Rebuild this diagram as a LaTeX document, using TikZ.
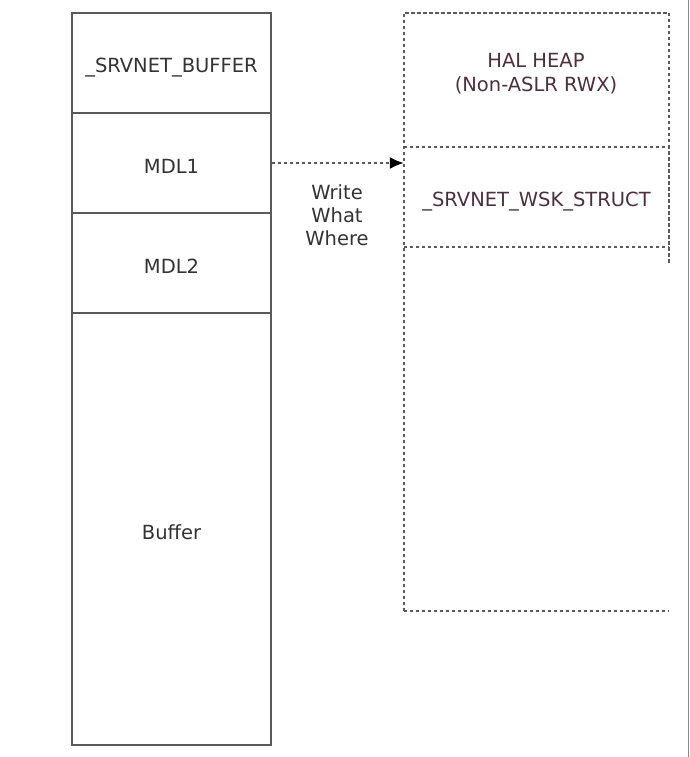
\documentclass[tikz,border=0pt]{standalone}
\usepackage{fontspec}
\setmainfont{DejaVu Sans}
\usetikzlibrary{arrows.meta}
\definecolor{linegray}{HTML}{5A5A5A}
\definecolor{txtgray}{HTML}{333333}
\definecolor{heaptxt}{HTML}{4D3040}
\definecolor{edgegray}{HTML}{8A8A8A}
\begin{document}
\begin{tikzpicture}[x=1pt,y=-1pt,
  blk/.style={draw=linegray, line width=1.8pt, minimum width=199pt, inner sep=0pt,
    text=txtgray, font=\fontsize{19.5}{23}\selectfont, text height=20pt, text depth=0pt},
  lbl/.style={text=heaptxt, align=center, font=\fontsize{19.5}{24}\selectfont, inner sep=0pt},
  dashline/.style={draw=linegray, line width=1.6pt, dash pattern=on 3.5pt off 2.5pt},
  note/.style={text=txtgray, align=center, font=\fontsize{19.5}{23}\selectfont}
]
\useasboundingbox (0,0) rectangle (690,757);
\fill[white] (0,0) rectangle (690,757);
% right edge of screenshot
\draw[edgegray, line width=1.5pt] (688.5,0) -- (688.5,757);
% left column
\node[blk, minimum height=100pt] (srv) at (171.5,63) {\_SRVNET\_BUFFER};
\node[blk, minimum height=100pt] (mdl1) at (171.5,163) {MDL1};
\node[blk, minimum height=100pt] (mdl2) at (171.5,263) {MDL2};
\node[blk, minimum height=432pt] (buf) at (171.5,529) {Buffer};
% right region
\node[minimum width=265pt, minimum height=598pt, inner sep=0pt] (region) at (536.5,312) {};
\node[lbl] (heap) at (536,74) {HAL HEAP\\(Non-ASLR RWX)};
\node[lbl, minimum width=265pt, minimum height=100pt, text height=18pt, text depth=0pt] (wsk) at (536.5,197) {\_SRVNET\_WSK\_STRUCT};
\coordinate (rend) at ([yshift=-16pt]wsk.south east);
\draw[dashline] (region.south west) -- (region.north west) -- (region.north east) -- (rend);
\draw[dashline] (region.south west) -- (region.south east);
\draw[dashline] (wsk.north west) -- (wsk.north east);
\draw[dashline] (wsk.south west) -- (wsk.south east);
% arrow
\draw[dashline, -{Latex[length=14pt,width=12pt,color=black]}] (mdl1.east) -- (mdl1.east -| wsk.west);
\node[note] (www) at (337,215) {Write\\What\\Where};
\end{tikzpicture}
\end{document}
